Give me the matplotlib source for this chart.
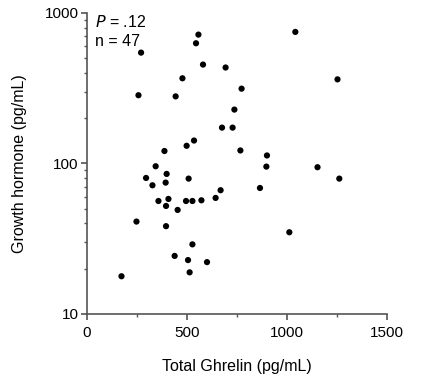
import numpy as np
import matplotlib.pyplot as plt
from matplotlib.ticker import FixedLocator, LogLocator, NullFormatter

plt.rcParams['font.family'] = ['Liberation Sans', 'DejaVu Sans']

# total ghrelin (pg/mL) and growth hormone (pg/mL)
ghrelin = [270, 557, 545, 580, 693, 477, 773, 257, 443, 737, 675, 728, 535, 498,
           387, 767, 1042, 1253, 900, 343, 398, 295, 508, 327, 393, 668, 643, 865,
           357, 407, 395, 495, 527, 572, 453, 247, 395, 527, 438, 505, 600, 513,
           172, 897, 1153, 1262, 1012]
gh = [545, 718, 629, 454, 434, 368, 314, 284, 279, 228, 173, 173, 142, 131,
      121, 122, 748, 362, 113, 95.8, 85.2, 80.1, 79.3, 71.6, 74.6, 66.4, 59.0, 68.7,
      56.3, 58.1, 52.2, 56.3, 56.3, 56.9, 49.1, 41.1, 38.3, 29.0, 24.3, 22.8, 22.1, 18.9,
      17.8, 95.3, 94.4, 79.3, 34.9]

xticks = [0, 500, 1000, 1500]
yticks = [10, 100, 1000]

fig = plt.figure(figsize=(4.27, 3.81), dpi=100)
ax = fig.add_axes([0.204, 0.176, 0.702, 0.790])

ax.scatter(ghrelin, gh, s=20, c='black', edgecolors='none', zorder=3, clip_on=False)

ax.set_yscale('log')
ax.set_xlim(0, 1500)
ax.set_ylim(10, 1000)
ax.set_xticks(xticks)
ax.set_xticklabels([str(t) for t in xticks])
ax.xaxis.set_minor_locator(FixedLocator([250, 750, 1250]))
ax.set_yticks(yticks)
ax.set_yticklabels([str(t) for t in yticks])
ax.yaxis.set_minor_locator(LogLocator(base=10, subs=np.arange(2, 10)))
ax.yaxis.set_minor_formatter(NullFormatter())

for s in ['top', 'right']:
    ax.spines[s].set_visible(False)
for s in ['left', 'bottom']:
    ax.spines[s].set_color('#555555')
    ax.spines[s].set_linewidth(1.2)

ax.tick_params(which='major', length=4, width=1.2, color='#555555', labelsize=11, pad=2)
ax.tick_params(axis='x', which='major', pad=4.5)
ax.tick_params(which='minor', length=2.5, width=1.0, color='#555555')

ax.set_xlabel('Total Ghrelin (pg/mL)', fontsize=11.5, labelpad=14)
ax.set_ylabel('Growth hormone (pg/mL)', fontsize=11.5, labelpad=13)

ax.text(0.025, 0.995, r'$\it{P}$' + ' = .12', transform=ax.transAxes, fontsize=11.5, va='top')
ax.text(0.025, 0.93, 'n = 47', transform=ax.transAxes, fontsize=11.5, va='top')

fig.savefig('out.png', dpi=100)
